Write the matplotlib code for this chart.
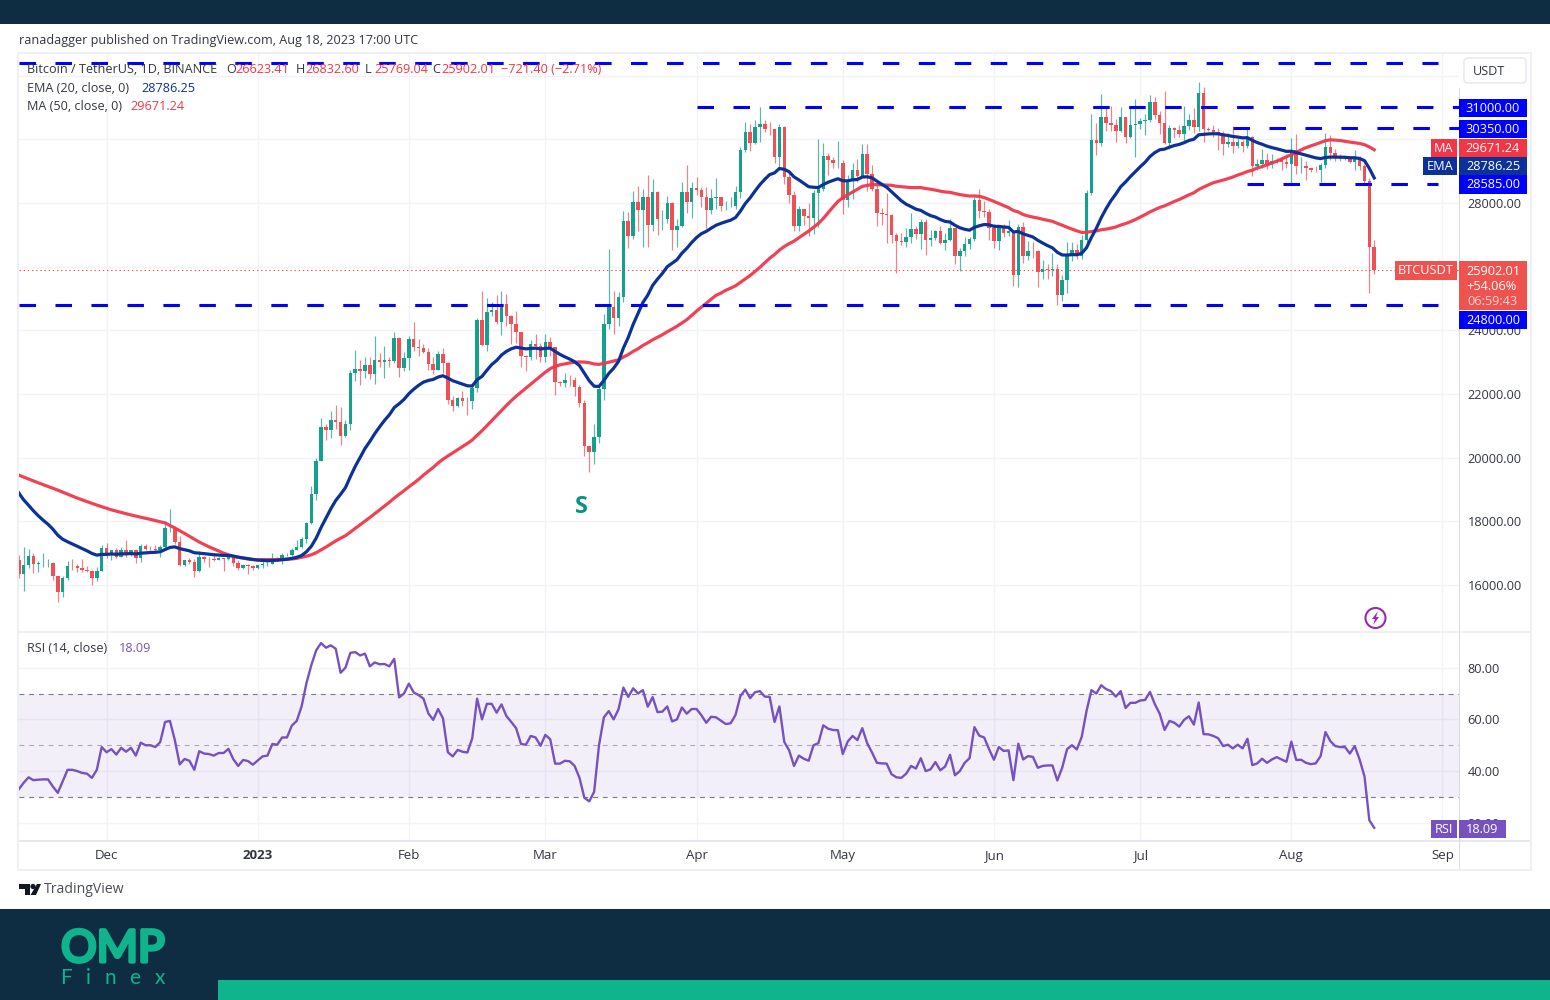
import numpy as np
import pandas as pd
import matplotlib
matplotlib.use("Agg")
import matplotlib.pyplot as plt
import matplotlib.dates as mdates
import matplotlib.patheffects as pe
from matplotlib.patches import Rectangle, Circle, FancyBboxPatch, Polygon

plt.rcParams['font.family'] = ['Open Sans', 'DejaVu Sans']
plt.rcParams['lines.scale_dashes'] = False

first_day = "2022-11-13"
last_day = "2023-08-18"
first_open = 16795.0

closes = [
 16331,16619,16900,16662,16692,16700,16700,16280,15781,16226,16603,16598,16522,16458,16428,16212,16442,17163,
 16978,17092,16885,17105,16967,17089,16836,17224,17128,17127,17085,17209,17775,17803,17356,16632,16776,16738,16438,16895,16824,16821,16778,16837,16830,16918,16706,16547,16633,16607,16542,
 16616,16672,16675,16850,16831,16951,16955,17091,17196,17446,17934,18869,19909,20976,20880,21185,21133,20677,21071,22667,22783,22707,22916,22632,23060,23009,23074,23027,23743,22826,23125,
 23732,23488,23431,23326,22932,22762,23249,22963,21796,21625,21862,21783,21773,22199,24324,23538,24566,24631,24271,24838,24439,24188,23947,23198,23175,23561,23522,23148,
 23647,23476,22362,22354,22436,22429,22219,21705,20363,20187,20633,22163,24197,24746,24375,25055,27423,26965,28038,27767,28175,27307,28333,27493,27494,27994,27139,27268,28348,28033,28478,
 28411,28199,27790,28171,28175,27907,27917,27917,28334,29653,30235,29884,30399,30485,30318,30315,29445,30397,28822,28245,27276,27817,27592,27525,28307,28423,29473,29340,29248,29268,
 28091,28680,29026,28847,29534,28904,28454,27694,27658,27621,26988,26805,26784,26930,27171,27034,27398,26832,26890,27129,26753,26851,27225,26334,26476,26719,26868,28085,27745,27702,27219,
 26819,27249,27069,27115,25728,27230,26339,26498,26477,25841,25925,25902,25918,25124,25576,26327,26510,26336,26840,28307,29993,29884,30688,30527,30462,30267,30692,30077,30446,30472,
 30585,30617,31156,30767,30504,29895,30344,30284,30160,30411,30620,30380,31454,30312,30289,30231,30138,29859,29909,29800,29901,29794,30083,29176,29228,29354,29212,29314,29352,29275,29230,
 29675,29152,29176,29092,29042,29041,29180,29765,29561,29429,29397,29415,29283,29408,29170,28701,26623.41,25902.01,
]
highs = [
 16954,17190,17134,17015,16750,17000,16820,16720,16290,16291,16760,16812,16666,16816,16595,16482,16550,17249,
 17317,17105,17158,17203,17424,17107,17142,17299,17300,17227,17270,17241,18000,18387,17846,17534,16800,16863,16816,17061,16915,16868,16955,16870,16860,16939,16972,16785,16664,16644,16628,
 16630,16760,16777,16998,16877,17000,16990,17176,17398,17500,17990,19117,19980,21258,21050,21478,21650,21600,21188,22755,23372,23078,23165,23156,23817,23282,23500,23165,23950,23800,23320,
 23812,24255,23715,23578,23440,23158,23350,23450,23011,21938,21906,22090,21894,22293,24380,25250,25021,24876,25121,25250,25126,24478,24600,23880,23225,23689,23880,23600,
 23880,23775,23476,22410,22666,22600,22531,22270,21819,20368,21050,22271,24500,26553,25250,25196,27756,27725,28390,28528,28440,28868,28754,28369,27792,28210,28024,27500,28650,29184,28656,
 28804,28500,28500,28444,28775,28180,28050,28175,28530,29770,30550,30486,30620,31000,30595,30550,30320,30488,30410,28999,28380,27889,27820,28000,28395,30020,29890,29572,29450,29960,
 29340,28880,29260,29380,29850,29850,29200,28660,27830,28320,27650,27054,27060,27199,27670,27290,27500,27485,27150,27150,27265,27050,27500,27214,26600,26930,26920,28200,28440,28050,27820,
 27350,27290,27330,27450,27129,27350,27400,26810,26780,26530,26200,26090,26430,26073,25750,26770,26770,26700,26990,28400,30800,30500,31431,31000,31060,30650,31000,30700,31000,31280,
 30670,30800,31380,31330,30880,31510,30450,30390,30445,31045,30800,30980,31804,31630,30390,30460,30340,30245,30190,30420,30050,29990,30350,30100,29390,29690,29580,29530,29415,29450,29530,
 30047,30176,29440,29320,29110,29170,29247,30200,30130,29710,29530,29440,29460,29670,29490,29230,28784,26832.60,
]
lows = [
 16229,15815,16527,16378,16400,16550,16570,16170,15476,15616,16170,16458,16400,16406,16421,16003,16122,16428,
 16855,16787,16858,16880,16867,16905,16678,16733,17100,17092,17071,16871,17087,17660,17275,16584,16584,16663,16256,16398,16725,16560,16750,16790,16445,16780,16592,16470,16488,16333,16470,
 16490,16544,16605,16645,16752,16667,16908,16908,17093,17150,17315,17909,18670,19882,20551,20611,20908,20407,20658,20856,22422,22293,22515,22464,22320,22850,22500,22861,22980,22520,22712,
 22760,23363,23206,23292,22745,22628,22745,22665,21688,21451,21599,21630,21351,21532,22048,23505,23339,24450,24192,23840,24148,23574,23600,22843,22722,23059,23106,23020,
 23020,23195,21971,22258,22213,22258,21927,21580,20042,19549,19800,20448,21813,24050,23896,24123,24890,26578,26880,27124,26611,26601,27132,27000,27158,27369,26508,26631,27240,27686,27525,
 28259,27860,27200,27662,27810,27735,27766,27880,27800,28170,29590,29627,29860,29900,30238,30120,29260,29100,28600,28010,27125,27130,27320,26970,27020,27235,28375,28880,29088,29090,
 27660,27870,28130,28670,28815,28380,28380,27280,27320,26750,26742,25811,26690,26605,26740,26863,26555,26360,26650,26850,26700,26530,26800,26080,25870,26340,26560,26800,27535,27560,26850,
 26600,26510,26920,26950,25388,25350,26118,26200,26273,25350,25600,25600,25712,24800,24920,25160,26180,26255,26250,26650,28260,29500,29800,30250,30260,29900,30220,29880,30040,29450,
 30320,30150,30550,30630,30180,29850,29700,30050,30070,29950,30300,30200,30255,29900,30250,30080,29650,29520,29760,29570,29720,29610,29740,28860,29050,29100,29060,29110,29255,29030,29100,
 28585,28920,28950,28730,28960,28980,28650,29100,29360,29320,29330,29350,29250,29050,29050,28560,25166,25769.04,
]
rsi_values = [
 33,35.5,37.6,36.5,36.7,36.8,36.8,34,31.6,36,40.5,40.5,40,39.3,39,37.4,40.5,49.3,
 47.3,48.5,46.4,49,47.5,49,46,51,50,50,49.3,51.2,59,59.4,52,42.6,44.7,44,40.5,47.7,46.8,46.6,46,47,47,48.6,44.6,42,44.3,43.9,42.5,
 44.1,45.7,46,50.5,50.2,53,53,57.6,59.4,65,74,81,86.7,89.5,87.7,88.6,87.3,78,80,85.7,86,84.7,85.4,80.5,82,81.3,81.4,80.5,83.4,68.5,70,
 73.8,70.4,69.4,68,62.3,59.8,64,60.4,47.3,45.7,48.2,47.5,47.2,52.7,68,60,66,66,62.6,65.8,61.3,59,56.6,50.5,50.2,53.6,53,49.8,
 54,52.3,42.9,42.9,44,43.8,42,37.4,29.7,28.3,32,50,60.8,63.2,60,63.9,72.3,68.7,72,70,71.3,64.9,68.6,62.8,63,65,59.2,60,64.6,62.2,64,
 64,61.6,58.7,61,60.8,59.5,58.2,58.5,61.7,69,71.5,68.2,70.5,70.9,68.8,68.7,59,65,51.3,48,42,46,44.8,44,50,50.8,57.7,56.4,55.9,55.8,
 46.6,51.4,53.6,52,56.6,50.8,47.2,43.2,43,42.9,38.8,37.6,37.4,39,42,41,45,40,40.7,43.5,40.3,41.8,46.3,38.4,40,43.2,45,57,53.7,53,48.5,
 44.4,49.3,47.8,48,36.5,50.6,44.5,45.8,45.5,41.3,42,42.2,42.2,36.4,41.3,48.5,50,48.4,53.2,63.3,71.3,70,73.2,71.7,70.9,68.8,70.9,64.4,66.4,66.4,
 67.3,67.5,70.6,65.9,62.2,55.9,59.4,58.7,57.2,59.8,61.2,58,66.5,54.3,54.2,53.6,52.7,49.7,50.2,48.8,50.2,48.8,52.5,42.3,43,44.8,43.2,44.5,45.4,44.5,43.6,
 51.4,44.3,44.4,43.2,42.7,43,45.8,55.1,51.6,49.7,49.3,49.3,46.8,49.7,44.5,38,21,18.09,
]
ema_values = [
 18890,18674,18505,18330,18174,18034,17907,17752,17564,17437,17358,17286,17213,17141,17073,16991,16939,16960,
 16962,16974,16966,16979,16978,16989,16974,16998,17010,17021,17027,17044,17114,17180,17197,17143,17108,17073,17013,17002,16985,16969,16951,16940,16930,16929,16908,16874,16851,16828,16801,
 16783,16772,16763,16771,16777,16794,16809,16836,16870,16925,17044,17218,17474,17807,18100,18394,18655,18848,19060,19403,19725,20009,20286,20509,20752,20967,21168,21345,21573,21692,21828,
 22009,22150,22272,22372,22425,22457,22532,22573,22499,22416,22363,22308,22257,22251,22448,22552,22744,22924,23052,23222,23338,23419,23469,23443,23417,23431,23440,23412,
 23434,23438,23336,23243,23166,23096,23013,22888,22648,22414,22244,22236,22423,22644,22809,23023,23442,23777,24183,24524,24872,25104,25411,25609,25788,25998,26107,26218,26421,26574,26755,
 26913,27035,27107,27208,27300,27358,27411,27459,27542,27743,27980,28161,28374,28575,28741,28891,28944,29082,29057,28980,28818,28723,28615,28511,28492,28485,28579,28651,28708,28761,
 28697,28695,28727,28738,28814,28823,28788,28684,28586,28494,28351,28204,28069,27961,27886,27805,27766,27677,27602,27557,27480,27420,27401,27299,27221,27173,27144,27234,27283,27323,27313,
 27266,27264,27245,27233,27090,27103,27030,26979,26931,26827,26741,26661,26590,26450,26367,26363,26377,26373,26417,26597,26920,27202,27534,27819,28071,28280,28510,28659,28829,28985,
 29137,29278,29457,29582,29670,29691,29753,29804,29838,29893,29962,30002,30140,30156,30169,30175,30171,30141,30119,30089,30071,30045,30049,29966,29896,29844,29784,29739,29702,29661,29620,
 29625,29580,29542,29499,29455,29416,29394,29429,29442,29441,29437,29435,29421,29420,29396,29330,29085,28786.25,
]
ma_early_dates = ["2022-11-13","2022-11-17","2022-11-21","2022-11-25","2022-11-29","2022-12-02","2022-12-06","2022-12-10","2022-12-13","2022-12-15","2022-12-17","2022-12-20","2022-12-22","2022-12-25","2022-12-27","2022-12-30"]
ma_early_values = [19450,19210,18980,18730,18510,18360,18200,18060,17950,17790,17620,17350,17200,17000,16900,16816]
ma_daily_start = "2023-01-01"
ma_daily_values = [
 16790,16797,16798,16797,16800,16805,16810,16818,16836,16870,16904,16949,17015,17104,17192,17287,17385,17470,17548,17662,17776,17892,18008,18121,18240,18363,18480,18598,18730,18845,18963,
 19082,19196,19318,19452,19575,19695,19831,19952,20051,20147,20249,20348,20447,20553,20705,20845,21004,21164,21319,21483,21638,21788,21930,22057,22181,22313,22442,22561,
 22685,22796,22866,22915,22944,22975,22996,23007,23001,22983,22942,22930,22960,22997,23032,23072,23160,23238,23338,23418,23525,23609,23701,23781,23862,23955,24039,24129,24231,24332,24466,
 24602,24729,24849,24977,25097,25169,25257,25324,25398,25506,25614,25723,25847,25978,26120,26263,26381,26519,26632,26724,26800,26909,27014,27116,27234,27358,27513,27693,27874,28047,
 28166,28256,28342,28431,28521,28551,28581,28574,28572,28561,28555,28524,28510,28499,28483,28481,28484,28454,28431,28404,28371,28344,28333,28296,28262,28238,28217,28220,28208,28169,28109,
 28048,27985,27917,27853,27761,27717,27636,27590,27555,27526,27488,27454,27422,27358,27301,27238,27181,27123,27074,27078,27104,27121,27158,27178,27209,27245,27305,27353,27410,27480,
 27556,27633,27718,27790,27859,27909,27979,28047,28108,28181,28256,28319,28421,28498,28569,28636,28677,28719,28763,28815,28877,28928,28988,29029,29099,29141,29198,29254,29312,29381,29447,
 29522,29587,29668,29738,29792,29843,29900,29958,29983,29972,29962,29937,29912,29891,29869,29829,29760,29671.24,
]

level_top = 32400
level_res_1 = 31000
level_res_2 = 30350
level_sup_1 = 28585
level_sup_2 = 24800
last_close = 25902.01
level_starts = {"top": "2022-11-13", "r1": "2023-04-01", "r2": "2023-07-20", "s1": "2023-07-23", "s2": "2022-11-13"}

price_ticks = list(range(16000, 32001, 2000))
hidden_price_labels = [30000, 32000]
rsi_ticks = [20, 40, 60, 80]
month_starts = ["2022-12-01","2023-01-01","2023-02-01","2023-03-01","2023-04-01","2023-05-01","2023-06-01","2023-07-01","2023-08-01","2023-09-01"]
month_labels = ["Dec","2023","Feb","Mar","Apr","May","Jun","Jul","Aug","Sep"]

DARK = "#0e2c42"
TEAL = "#10b48c"
UP = "#14a08c"
DOWN = "#ef4f55"
EMA_C = "#0c3299"
MA_C = "#f0384b"
BLUE = "#0000ff"
RSI_C = "#7552c0"
GRID = "#f1f3f8"
FRAME = "#eef0f6"
TXT = "#333640"

dates = pd.date_range(first_day, last_day)
x = mdates.date2num(dates)
close = np.array(closes, float)
high = np.array(highs, float)
low = np.array(lows, float)
rsi = np.array(rsi_values, float)
ema = np.array(ema_values, float)
assert len(x) == len(close) == len(high) == len(low) == len(rsi) == len(ema)
open_ = np.r_[first_open, close[:-1]]
up = close >= open_
ma_dates = pd.to_datetime(ma_early_dates).append(pd.date_range(ma_daily_start, last_day))
ma = np.r_[ma_early_values, ma_daily_values]
assert len(ma_dates) == len(ma)

W, H = 1550, 1000
fig = plt.figure(figsize=(W / 100, H / 100), dpi=100, facecolor="white")

def axes_px(l, t, r, b, **kw):
    return fig.add_axes([l / W, 1 - b / H, (r - l) / W, (b - t) / H], **kw)

ax = axes_px(19, 54, 1459, 631, facecolor="white", zorder=2)
ar = axes_px(19, 632, 1459, 840, facecolor="white", zorder=2)

dec1 = mdates.date2num(pd.Timestamp("2022-12-01"))
px_day = (1442 - 107) / 274.0
xlim = (dec1 - (107 - 19.5) / px_day, dec1 + (1459 - 107.5) / px_day)
month_x = mdates.date2num(pd.to_datetime(month_starts))

for a in (ax, ar):
    a.set_xlim(*xlim)
    for s in a.spines.values():
        s.set_visible(False)
    a.yaxis.tick_right()
    a.set_xticks(month_x)
    a.grid(True, color=GRID, lw=1.0)
    a.set_axisbelow(True)
    a.tick_params(length=0, labelsize=9.2, labelcolor=TXT, pad=6)

ax.set_ylim(16000 + (585 - 631) * 31.41, 16000 + (585 - 54) * 31.41)
ax.set_yticks(price_ticks)
ax.set_yticklabels(["" if p in hidden_price_labels else f"{p:.2f}" for p in price_ticks])
ax.tick_params(axis="x", labelbottom=False)

# candles
wick_c = [UP if u else DOWN for u in up]
ax.vlines(x, np.minimum(low, np.minimum(open_, close)), np.maximum(high, np.maximum(open_, close)),
          colors=wick_c, lw=0.85, alpha=0.72, zorder=3)
ax.bar(x, np.abs(close - open_), bottom=np.minimum(open_, close), width=0.72,
       color=wick_c, lw=0, zorder=3.2)

ax.plot(mdates.date2num(ma_dates), ma, color=MA_C, lw=2.3, alpha=0.95, zorder=4, solid_joinstyle="round")
ax.plot(x, ema, color=EMA_C, lw=2.3, zorder=4.2, solid_joinstyle="round")

lv_end = mdates.date2num(pd.Timestamp("2023-08-31"))
def dash(level, start, end=lv_end):
    ax.plot([mdates.date2num(pd.Timestamp(start)), end], [level, level], color=BLUE, lw=2.2,
            dashes=(11.9, 14.0), dash_capstyle="butt", zorder=5)
dash(level_top, level_starts["top"])
dash(level_res_1, level_starts["r1"], xlim[1])
dash(level_res_2, level_starts["r2"], xlim[1])
dash(level_sup_1, level_starts["s1"])
dash(level_sup_2, level_starts["s2"])
ax.plot([xlim[0], xlim[1]], [last_close, last_close], color=DOWN, lw=0.8, ls=(0, (1, 2)), zorder=2.5)

# RSI pane
ar.set_ylim(30 - (840 - 797) / 2.5875, 70 + (693.5 - 632) / 2.5875)
ar.set_yticks(rsi_ticks)
ar.set_yticklabels([f"{t:.2f}" for t in rsi_ticks])
ar.set_xticklabels(month_labels, fontsize=9.5, color=TXT)
ar.tick_params(axis="x", pad=6.5)
ar.get_xticklabels()[1].set_fontweight("bold")
ar.axhspan(30, 70, color="#7e57c2", alpha=0.095, lw=0, zorder=1)
for lv, c, lw in ((70, "#787b86", 0.8), (50, "#a9abb3", 0.8), (30, "#787b86", 0.8)):
    ar.axhline(lv, color=c, lw=lw, dashes=(3.5, 3.5), zorder=1.5)
ar.plot(x, rsi, color=RSI_C, lw=1.7, zorder=3, solid_joinstyle="round")

# overlay in pixel coordinates for labels and page furniture
ov = fig.add_axes([0, 0, 1, 1], zorder=10, facecolor="none")
ov.set_xlim(0, W)
ov.set_ylim(H, 0)
ov.axis("off")

def rect(l, t, r, b, c, **kw):
    ov.add_patch(Rectangle((l, t), r - l, b - t, facecolor=c, edgecolor="none", **kw))

rect(0, 0, W, 24, DARK)
rect(0, 909, W, H, DARK)
rect(218, 980, W, H, TEAL)
rect(17, 52, 1532, 54, FRAME)
rect(17, 869, 1532, 871, FRAME)
rect(17, 52, 19, 871, FRAME)
rect(1530, 52, 1532, 871, FRAME)
rect(19, 630.5, 1530, 632.5, FRAME)
rect(19, 840, 1530, 842, "#e6e8ef")
rect(1459, 88, 1460, 869, "#d8dbe3")

def t(px, py, s, color=TXT, size=9.05, ha="left", **kw):
    return ov.text(px, py + 0.8, s, color=color, fontsize=size, ha=ha, va="center", **kw)

t(19, 40, "ranadagger published on TradingView.com, Aug 18, 2023 17:00 UTC")
t(27, 69, "Bitcoin / TetherUS, 1D, BINANCE")
RED = "#f23645"
for px, lab, val in ((226, "O", "26623.41"), (296, "H", "26832.60"), (365, "L", "25769.04"), (432, "C", "25902.01")):
    t(px, 69, lab)
    t(px + 9, 69, val, color=RED)
t(501, 69, "\u2212721.40 (\u22122.71%)", color=RED)
t(27, 88, "EMA (20, close, 0)")
t(141, 88, "28786.25", color=EMA_C)
t(27, 106, "MA (50, close, 0)")
t(130, 106, "29671.24", color=RED)
t(27, 648, "RSI (14, close)")
t(119, 648, "18.09", color=RSI_C)

t(581, 506, "S", color="#0a9384", size=17, ha="center", fontweight="bold")

ov.add_patch(FancyBboxPatch((1464, 58), 62, 25, boxstyle="round,pad=0,rounding_size=4",
                            facecolor="white", edgecolor="#e6e8ef", lw=1))
t(1473, 71, "USDT")

def tag(l, t_, r, b, c, s, **kw):
    rect(l, t_, r, b, c)
    t((l + r) / 2, (t_ + b) / 2 - 0.5, s, color="white", size=9.2, ha="center", **kw)

tag(1459, 99, 1527, 117, BLUE, "31000.00")
tag(1459, 120, 1527, 138, BLUE, "30350.00")
tag(1459, 138.5, 1527, 157, RED, "29671.24")
tag(1431, 139, 1457, 157, RED, "MA")
tag(1459, 157, 1527, 175, EMA_C, "28786.25")
tag(1423, 157, 1457, 175, EMA_C, "EMA")
tag(1459, 175, 1527, 194, BLUE, "28585.00")
rect(1459, 261, 1527, 310, "#ef5350")
t(1493, 270.5, "25902.01", color="white", ha="center", size=9.2)
t(1491, 285.5, "+54.06%", color="white", ha="center", size=9.2)
t(1493, 300.5, "06:59:43", color="#fbd5d5", ha="center", size=9.2)
tag(1395, 261, 1457, 280, "#ef5350", "BTCUSDT")
tag(1459, 311, 1527, 329, BLUE, "24800.00")
tag(1431, 820, 1457, 838, RSI_C, "RSI")
tag(1459, 820, 1506, 838, RSI_C, "18.09")

ov.add_patch(Circle((1375.5, 618), 10, facecolor="white", edgecolor="#9c27b0", lw=1.5))
ov.add_patch(Polygon([(1378, 611), (1372, 619), (1375, 619), (1373, 625), (1379, 617), (1376, 617)],
                     closed=True, facecolor="#9c27b0", edgecolor="none"))

LOGO = "#131722"
ov.add_patch(Polygon([(19, 884), (30, 884), (30, 895), (25, 895), (25, 889), (19, 889)], closed=True, facecolor=LOGO))
ov.add_patch(Circle((33, 886.5), 2.6, facecolor=LOGO))
ov.add_patch(Polygon([(37, 884), (41, 884), (36, 895), (30.5, 895)], closed=True, facecolor=LOGO))
t(44, 889, "TradingView", color="#4a4d57", size=10.1)

omp = t(113, 948.5, "OMP", color=TEAL, size=32, ha="center", family=["Lato", "DejaVu Sans"])
omp.set_path_effects([pe.withStroke(linewidth=2.6, foreground=TEAL)])
for px, ch in ((66, "F"), (88, "i"), (110, "n"), (135, "e"), (160, "x")):
    t(px, 977.5, ch, color=TEAL, size=15, ha="center", family=["Lato", "DejaVu Sans"])

fig.savefig("out.png", dpi=100)
